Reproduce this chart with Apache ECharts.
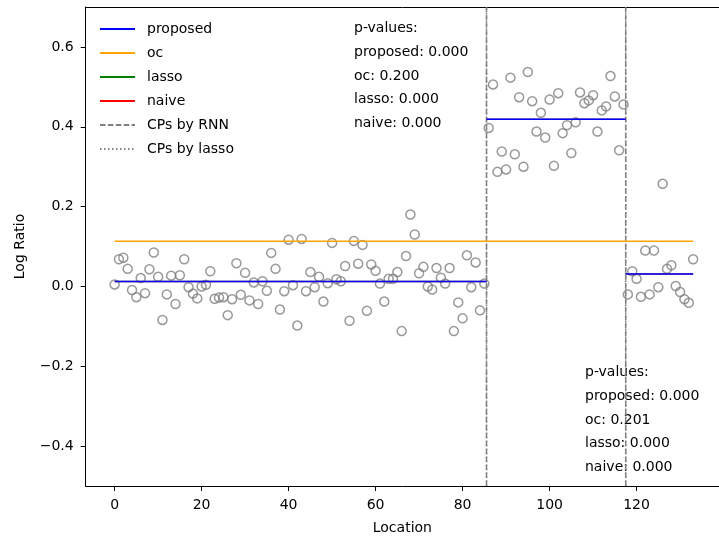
<!DOCTYPE html>
<html>
<head>
<meta charset="utf-8">
<script src="https://cdn.jsdelivr.net/npm/echarts@6/dist/echarts.min.js"></script>
<style>html,body{margin:0;padding:0;background:#fff;overflow:hidden;}#chart{width:719px;height:540px;}</style>
</head>
<body>
<div id="chart"></div>
<script>
// ---- data ----
const logRatio = [
  0.005, 0.068, 0.072, 0.044, -0.009, -0.027, 0.021, -0.017, 0.043, 0.085,
  0.024, -0.084, -0.020, 0.027, -0.044, 0.028, 0.068, -0.002, -0.018, -0.030,
  0.000, 0.004, 0.038, -0.031, -0.028, -0.027, -0.072, -0.032, 0.058, -0.021,
  0.034, -0.035, 0.010, -0.044, 0.013, -0.011, 0.084, 0.044, -0.058, -0.012,
  0.117, 0.003, -0.098, 0.119, -0.012, 0.036, -0.002, 0.024, -0.038, 0.008,
  0.109, 0.018, 0.013, 0.051, -0.086, 0.114, 0.057, 0.104, -0.061, 0.055,
  0.039, 0.007, -0.038, 0.019, 0.019, 0.036, -0.112, 0.076, 0.180, 0.130,
  0.033, 0.049, 0.000, -0.008, 0.046, 0.022, 0.007, 0.046, -0.112, -0.040,
  -0.080, 0.078, -0.002, 0.060, -0.060, 0.007, 0.397, 0.506, 0.287, 0.338,
  0.293, 0.523, 0.331, 0.474, 0.300, 0.537, 0.464, 0.388, 0.435, 0.373,
  0.468, 0.302, 0.484, 0.384, 0.404, 0.334, 0.411, 0.486, 0.459, 0.466,
  0.479, 0.388, 0.441, 0.451, 0.527, 0.476, 0.341, 0.456, -0.020, 0.038,
  0.019, -0.026, 0.090, -0.020, 0.090, -0.002, 0.257, 0.044, 0.053, 0.001,
  -0.014, -0.032, -0.041, 0.068
];
const cpsRNN = [85.5, 117.5];
const cpsLasso = [85.5, 117.5];
const proposedLevels = [0.0125, 0.419, 0.031];
const lassoLevels = [0.0125, 0.419, 0.031];
const naiveLevels = [0.0125, 0.419, 0.031];
const ocLevel = 0.113;
const xTicks = [0, 20, 40, 60, 80, 100, 120];
const yTicks = [-0.4, -0.2, 0.0, 0.2, 0.4, 0.6];
const pTextTop = ['p-values:', 'proposed: 0.000', 'oc: 0.200', 'lasso: 0.000', 'naive: 0.000'];
const pTextBottom = ['p-values:', 'proposed: 0.000', 'oc: 0.201', 'lasso: 0.000', 'naive: 0.000'];

const X_MIN = -6.65, X_MAX = 138.95, Y_MIN = -0.5, Y_MAX = 0.7;
const FONT = 'DejaVu Sans';
const lastX = logRatio.length - 1;

const points = logRatio.map((v, i) => [i, v]);

function segmentSeries(name, levels, color, width, z, opacity) {
  const out = [];
  levels.forEach((lv, k) => {
    const x0 = k === 0 ? 0 : cpsRNN[k - 1];
    const x1 = k === levels.length - 1 ? lastX : cpsRNN[k];
    out.push({
      name: name, type: 'line', symbol: 'none', z: z, silent: true,
      lineStyle: { color: color, width: width, opacity: opacity },
      itemStyle: { color: color, opacity: 0 },
      data: [[x0, lv], [x1, lv]], animation: false
    });
  });
  return out;
}
function vlineSeries(name, cps, color, dash, z) {
  return cps.map(c => ({
    name: name, type: 'line', symbol: 'none', z: z, silent: true,
    lineStyle: { color: color, width: 1.5, type: dash },
    itemStyle: { color: color, opacity: 0 },
    data: [[c, Y_MIN], [c, Y_MAX]], animation: false
  }));
}

const series = [
  {
    type: 'scatter', name: 'data', data: points, symbol: 'circle', symbolSize: 9, z: 2,
    itemStyle: { color: 'rgba(0,0,0,0)', borderColor: '#808080', borderWidth: 1.5 },
    animation: false, silent: true
  },
  ...vlineSeries('CPs by lasso', cpsLasso, '#808080', [1.5, 2.5], 3),
  ...vlineSeries('CPs by RNN', cpsRNN, '#808080', [5.5, 2.4], 3),
  {
    name: 'oc', type: 'line', symbol: 'none', z: 4, silent: true,
    lineStyle: { color: 'orange', width: 1.5 }, itemStyle: { color: 'orange', opacity: 0 },
    data: [[0, ocLevel], [lastX, ocLevel]], animation: false
  },
  ...segmentSeries('lasso', lassoLevels, 'green', 1.5, 4, 0.5),
  ...segmentSeries('naive', naiveLevels, 'red', 1.5, 5, 0.5),
  ...segmentSeries('proposed', proposedLevels, 'blue', 1.5, 6, 1)
];

const chart = echarts.init(document.getElementById('chart'), null, { renderer: 'canvas' });
chart.setOption({
  animation: false,
  backgroundColor: '#fff',
  textStyle: { fontFamily: FONT },
  grid: { left: 85.7, top: 7, right: 0, bottom: 53.5, show: false },
  xAxis: [{
    type: 'value', min: X_MIN, max: X_MAX,
    name: 'Location', nameLocation: 'middle', nameGap: 35,
    nameTextStyle: { fontFamily: FONT, fontSize: 14, color: '#000' },
    axisLine: { show: true, onZero: false, lineStyle: { color: '#000', width: 1 } },
    axisTick: { show: true, length: 5, lineStyle: { color: '#000' }, customValues: xTicks },
    axisLabel: { fontFamily: FONT, fontSize: 14, color: '#000', margin: 12, customValues: xTicks,
      formatter: v => String(v) },
    splitLine: { show: false }
  }, {
    type: 'value', position: 'top', min: X_MIN, max: X_MAX,
    axisLine: { show: true, onZero: false, lineStyle: { color: '#000', width: 1 } },
    axisTick: { show: false }, axisLabel: { show: false }, splitLine: { show: false }
  }],
  yAxis: {
    type: 'value', min: Y_MIN, max: Y_MAX,
    name: 'Log Ratio', nameLocation: 'middle', nameGap: 58, nameRotate: 90,
    nameTextStyle: { fontFamily: FONT, fontSize: 14, color: '#000' },
    axisLine: { show: true, onZero: false, lineStyle: { color: '#000', width: 1 } },
    axisTick: { show: true, length: 5, lineStyle: { color: '#000' }, customValues: yTicks },
    axisLabel: { fontFamily: FONT, fontSize: 14, color: '#000', margin: 12, customValues: yTicks,
      formatter: v => (v < -1e-9 ? '\u2212' + Math.abs(v).toFixed(1) : Math.abs(v).toFixed(1)) },
    splitLine: { show: false }
  },
  legend: {
    orient: 'vertical', left: 99, top: 22, padding: 0,
    itemWidth: 35, itemHeight: 14, itemGap: 10,
    itemStyle: { opacity: 0 },
    data: [
      { name: 'proposed' },
      { name: 'oc' },
      { name: 'lasso', lineStyle: { opacity: 1 } },
      { name: 'naive', lineStyle: { opacity: 1 } },
      { name: 'CPs by RNN' },
      { name: 'CPs by lasso' }
    ],
    textStyle: { fontFamily: FONT, fontSize: 14, color: '#000', padding: [0, 0, 0, 7] },
    selectedMode: false
  },
  graphic: [
    { type: 'rect', z: 1000, silent: true,
      shape: { x: 714, y: 8, width: 6, height: 478 }, style: { fill: '#ffffff', stroke: null } },
    { type: 'text', left: 354, top: 17, silent: true,
      style: { text: pTextTop.join('\n'), font: '14px "DejaVu Sans"', fill: '#000', lineHeight: 23.6 } },
    { type: 'text', left: 585, top: 361, silent: true,
      style: { text: pTextBottom.join('\n'), font: '14px "DejaVu Sans"', fill: '#000', lineHeight: 23.6 } }
  ],
  series: series
});
</script>
</body>
</html>
